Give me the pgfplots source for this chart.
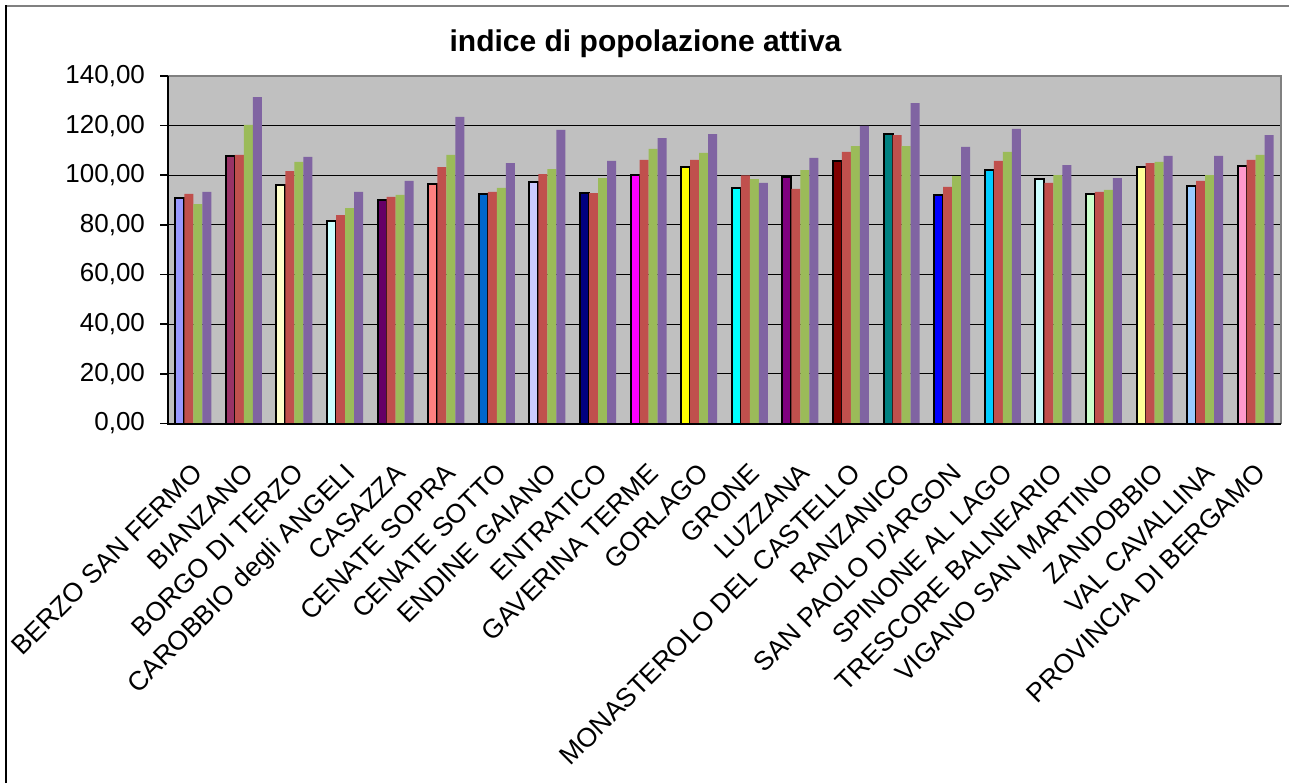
\documentclass[border=0pt]{standalone}
\usepackage{fontspec}
\setmainfont{Liberation Sans}
\usepackage{pgfplots}
\pgfplotsset{compat=1.18}
\definecolor{plotbg}{HTML}{C0C0C0}
\definecolor{frameg}{HTML}{808080}
\definecolor{sred}{HTML}{C0504D}
\definecolor{sgreen}{HTML}{9BBB59}
\definecolor{spurple}{HTML}{8064A2}
\definecolor{cA}{HTML}{9999FF}
\definecolor{cB}{HTML}{993366}
\definecolor{cC}{HTML}{FFFFCC}
\definecolor{cD}{HTML}{CCFFFF}
\definecolor{cE}{HTML}{660066}
\definecolor{cF}{HTML}{FF8080}
\definecolor{cG}{HTML}{0066CC}
\definecolor{cH}{HTML}{CCCCFF}
\definecolor{cI}{HTML}{000080}
\definecolor{cJ}{HTML}{FF00FF}
\definecolor{cK}{HTML}{FFFF00}
\definecolor{cL}{HTML}{00FFFF}
\definecolor{cM}{HTML}{800080}
\definecolor{cN}{HTML}{800000}
\definecolor{cO}{HTML}{008080}
\definecolor{cP}{HTML}{0000FF}
\definecolor{cQ}{HTML}{00CCFF}
\definecolor{cR}{HTML}{CCFFFF}
\definecolor{cS}{HTML}{CCFFCC}
\definecolor{cT}{HTML}{FFFF99}
\definecolor{cU}{HTML}{99CCFF}
\definecolor{cV}{HTML}{FF99CC}
\begin{document}
\begin{tikzpicture}
\useasboundingbox (0,0) rectangle (644.5pt,391.5pt);
\fill[white] (0,0) rectangle (644.5pt,391.5pt);
\draw[frameg, line width=0.8pt] (3pt,388.5pt) -- (644.5pt,388.5pt);
\draw[black, line width=0.8pt] (3pt,0pt) -- (3pt,388.9pt);
\node[font=\bfseries\fontsize{15}{18}\selectfont] at (322.75pt,369.5pt) {indice di popolazione attiva};
\begin{axis}[
  at={(84pt,179.75pt)}, anchor=south west,
  scale only axis, width=556.5pt, height=173.75pt,
  xmin=-0.5, xmax=21.5, ymin=0, ymax=140,
  ytick={0,20,...,140},
  xtick={0,...,21},
  xticklabels={{BERZO SAN FERMO},{BIANZANO},{BORGO DI TERZO},{CAROBBIO degli ANGELI},{CASAZZA},{CENATE SOPRA},{CENATE SOTTO},{ENDINE GAIANO},{ENTRATICO},{GAVERINA TERME},{GORLAGO},{GRONE},{LUZZANA},{MONASTEROLO DEL CASTELLO},{RANZANICO},{SAN PAOLO D\textquotesingle ARGON},{SPINONE AL LAGO},{TRESCORE BALNEARIO},{VIGANO SAN MARTINO},{ZANDOBBIO},{VAL CAVALLINA},{PROVINCIA DI BERGAMO}},
  xticklabel style={rotate=45, anchor=north east, font=\fontsize{13.3}{15}\selectfont, yshift=-6.5pt, xshift=-8pt},
  yticklabel style={font=\fontsize{13}{15}\selectfont, xshift=-4pt},
  /pgf/number format/.cd, fixed, fixed zerofill, precision=2, use comma, 1000 sep={}, assume math mode=true,
  /pgfplots/.cd,
  ymajorgrids, grid style={black, line width=0.5pt},
  axis line style={draw=none},
  axis background/.style={fill=plotbg},
  tick align=outside, major tick length=4pt,
  ytick pos=left, xtick pos=bottom,
  ytick style={black, line width=0.8pt},
  xtick style={draw=none},
  ybar, bar width=4.5pt,
  clip=false,
]
\pgfplotsset{first/.style={fill=#1, draw=black, line width=1pt, bar shift=-6.75pt}}
\addplot[first=cA] coordinates {(0,91.0)};
\addplot[first=cB] coordinates {(1,107.9)};
\addplot[first=cC] coordinates {(2,96.1)};
\addplot[first=cD] coordinates {(3,81.5)};
\addplot[first=cE] coordinates {(4,90.0)};
\addplot[first=cF] coordinates {(5,96.5)};
\addplot[first=cG] coordinates {(6,92.5)};
\addplot[first=cH] coordinates {(7,97.3)};
\addplot[first=cI] coordinates {(8,92.9)};
\addplot[first=cJ] coordinates {(9,100.1)};
\addplot[first=cK] coordinates {(10,103.3)};
\addplot[first=cL] coordinates {(11,94.7)};
\addplot[first=cM] coordinates {(12,99.3)};
\addplot[first=cN] coordinates {(13,105.8)};
\addplot[first=cO] coordinates {(14,116.6)};
\addplot[first=cP] coordinates {(15,92.1)};
\addplot[first=cQ] coordinates {(16,102.1)};
\addplot[first=cR] coordinates {(17,98.5)};
\addplot[first=cS] coordinates {(18,92.5)};
\addplot[first=cT] coordinates {(19,103.3)};
\addplot[first=cU] coordinates {(20,95.7)};
\addplot[first=cV] coordinates {(21,103.7)};
\addplot[fill=sred, draw=none, bar shift=-2.25pt] coordinates {
(0,92.5) (1,108.2) (2,101.7) (3,84.0) (4,91.3) (5,103.3) (6,93.3) (7,100.5) (8,92.8) (9,106.2) (10,106.2)
(11,100.0) (12,94.5) (13,109.4) (14,116.2) (15,95.3) (16,105.8) (17,96.9) (18,93.3) (19,104.9) (20,97.7) (21,106.2)};
\addplot[fill=sgreen, draw=none, bar shift=2.25pt] coordinates {
(0,88.4) (1,120.3) (2,105.4) (3,86.8) (4,92.1) (5,108.2) (6,94.9) (7,102.5) (8,98.9) (9,110.6) (10,109.0)
(11,98.5) (12,102.1) (13,111.8) (14,111.8) (15,99.7) (16,109.4) (17,100.1) (18,94.1) (19,105.4) (20,100.1) (21,108.2)};
\addplot[fill=spurple, draw=none, bar shift=6.75pt] coordinates {
(0,93.3) (1,131.5) (2,107.4) (3,93.3) (4,97.7) (5,123.5) (6,104.9) (7,118.3) (8,105.8) (9,115.0) (10,116.6)
(11,96.9) (12,107.0) (13,119.9) (14,129.1) (15,111.4) (16,118.7) (17,104.1) (18,98.9) (19,107.8) (20,107.8) (21,116.2)};
\draw[frameg, line width=1pt] (rel axis cs:0,1) -- (rel axis cs:1,1) -- (rel axis cs:1,0);
\draw[black, line width=1pt] (rel axis cs:0,1) -- (rel axis cs:0,0) -- (rel axis cs:1,0);
\end{axis}
\end{tikzpicture}
\end{document}
